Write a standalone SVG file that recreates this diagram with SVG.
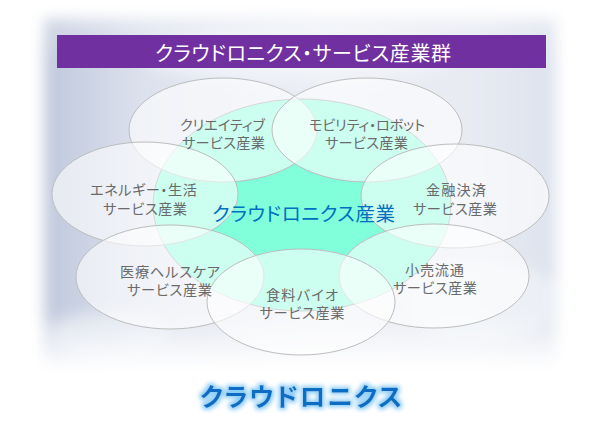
<svg xmlns="http://www.w3.org/2000/svg" width="590" height="423" viewBox="0 0 590 423">
  <defs>
    <style>
      .node { fill: #ffffff; fill-opacity: 0.6; stroke: #bdbdbd; stroke-width: 1; }
      .jp { font-family: "Liberation Sans", "Noto Sans CJK JP", sans-serif; font-feature-settings: "palt"; }
      .lbl { font-size: 14.2px; fill: #6a6a6a; text-anchor: middle; }
    </style>
    <linearGradient id="bgH" x1="0" y1="0" x2="1" y2="0">
      <stop offset="0" stop-color="#bfc8dc"/>
      <stop offset="0.2" stop-color="#dde2ee"/>
      <stop offset="0.55" stop-color="#eaedf4"/>
      <stop offset="0.85" stop-color="#e7eaf2"/>
      <stop offset="1" stop-color="#dde2ed"/>
    </linearGradient>
    <linearGradient id="fadeV" x1="0" y1="0" x2="0" y2="1">
      <stop offset="0" stop-color="#fff" stop-opacity="0.3"/>
      <stop offset="0.12" stop-color="#fff" stop-opacity="0"/>
      <stop offset="0.84" stop-color="#fff" stop-opacity="0"/>
      <stop offset="1" stop-color="#fff" stop-opacity="1"/>
    </linearGradient>
    <filter id="soft" x="-10%" y="-10%" width="120%" height="120%">
      <feGaussianBlur stdDeviation="7"/>
    </filter>
    <filter id="glow" x="-10%" y="-40%" width="120%" height="180%">
      <feMorphology in="SourceAlpha" operator="dilate" radius="1.5" result="d"/>
      <feGaussianBlur in="d" stdDeviation="2" result="b"/>
      <feFlood flood-color="#8ccdf6"/>
      <feComposite in2="b" operator="in" result="g"/>
      <feMerge>
        <feMergeNode in="g"/>
        <feMergeNode in="SourceGraphic"/>
      </feMerge>
    </filter>
  </defs>

  <rect width="590" height="423" fill="#ffffff"/>

  <g id="background" filter="url(#soft)">
    <rect x="44" y="18" width="512" height="350" fill="url(#bgH)"/>
    <ellipse cx="300" cy="55" rx="160" ry="28" fill="#f4f6fa" opacity="0.7"/>
    <ellipse cx="480" cy="300" rx="80" ry="40" fill="#f4f6fa" opacity="0.6"/>
    <ellipse cx="110" cy="335" rx="60" ry="25" fill="#f0f3f8" opacity="0.5"/>
    <rect x="44" y="18" width="512" height="350" fill="url(#fadeV)"/>
  </g>

  <g id="title">
    <rect x="57" y="35" width="489" height="33" fill="#7030A0"/>
    <text class="jp" x="303" y="61" font-size="20" fill="#ffffff" text-anchor="middle" textLength="296" lengthAdjust="spacing">クラウドロニクス・サービス産業群</text>
  </g>

  <g id="connectors"/>

  <g id="center">
    <ellipse cx="302" cy="205" rx="149" ry="106" fill="#80FFDA" stroke="#9a9a9a" stroke-width="1"/>
  </g>

  <g id="node-creative">
    <ellipse class="node" cx="223" cy="130" rx="94" ry="52"/>
  </g>
  <g id="node-mobility">
    <ellipse class="node" cx="367" cy="130" rx="95" ry="52"/>
  </g>
  <g id="node-energy">
    <ellipse class="node" cx="145" cy="194" rx="93" ry="52"/>
  </g>
  <g id="node-finance">
    <ellipse class="node" cx="455" cy="196" rx="94" ry="52"/>
  </g>
  <g id="node-medical">
    <ellipse class="node" cx="170" cy="277" rx="94" ry="52"/>
  </g>
  <g id="node-retail">
    <ellipse class="node" cx="434" cy="276" rx="95" ry="52"/>
  </g>
  <g id="node-food">
    <ellipse class="node" cx="301" cy="302" rx="94" ry="53"/>
  </g>

  <g id="labels">
    <text class="jp lbl" x="222.5" y="130" textLength="85" lengthAdjust="spacing">クリエイティブ</text>
    <text class="jp lbl" x="223.5" y="148" textLength="83" lengthAdjust="spacing">サービス産業</text>
    <text class="jp lbl" x="367" y="130" textLength="116" lengthAdjust="spacing">モビリティ・ロボット</text>
    <text class="jp lbl" x="366.5" y="148" textLength="83" lengthAdjust="spacing">サービス産業</text>
    <text class="jp lbl" x="143.5" y="195" textLength="107" lengthAdjust="spacing">エネルギー・生活</text>
    <text class="jp lbl" x="145" y="214" textLength="84" lengthAdjust="spacing">サービス産業</text>
    <text class="jp lbl" x="456" y="195" textLength="60" lengthAdjust="spacing">金融決済</text>
    <text class="jp lbl" x="455" y="214" textLength="84" lengthAdjust="spacing">サービス産業</text>
    <text class="jp lbl" x="170" y="277" textLength="100" lengthAdjust="spacing">医療ヘルスケア</text>
    <text class="jp lbl" x="169.5" y="295" textLength="85" lengthAdjust="spacing">サービス産業</text>
    <text class="jp lbl" x="434.5" y="275" textLength="59" lengthAdjust="spacing">小売流通</text>
    <text class="jp lbl" x="435" y="293" textLength="84" lengthAdjust="spacing">サービス産業</text>
    <text class="jp lbl" x="302" y="300" textLength="72" lengthAdjust="spacing">食料バイオ</text>
    <text class="jp lbl" x="302" y="318" textLength="85" lengthAdjust="spacing">サービス産業</text>
    <text class="jp" x="303.5" y="221" font-size="19.5" fill="#0070C0" text-anchor="middle" textLength="183" lengthAdjust="spacing">クラウドロニクス産業</text>
  </g>

  <g id="footer">
    <text class="jp" x="301" y="406" font-size="25.5" font-weight="bold" fill="#0a6cc4" text-anchor="middle" textLength="202" lengthAdjust="spacing" filter="url(#glow)">クラウドロニクス</text>
  </g>
</svg>
